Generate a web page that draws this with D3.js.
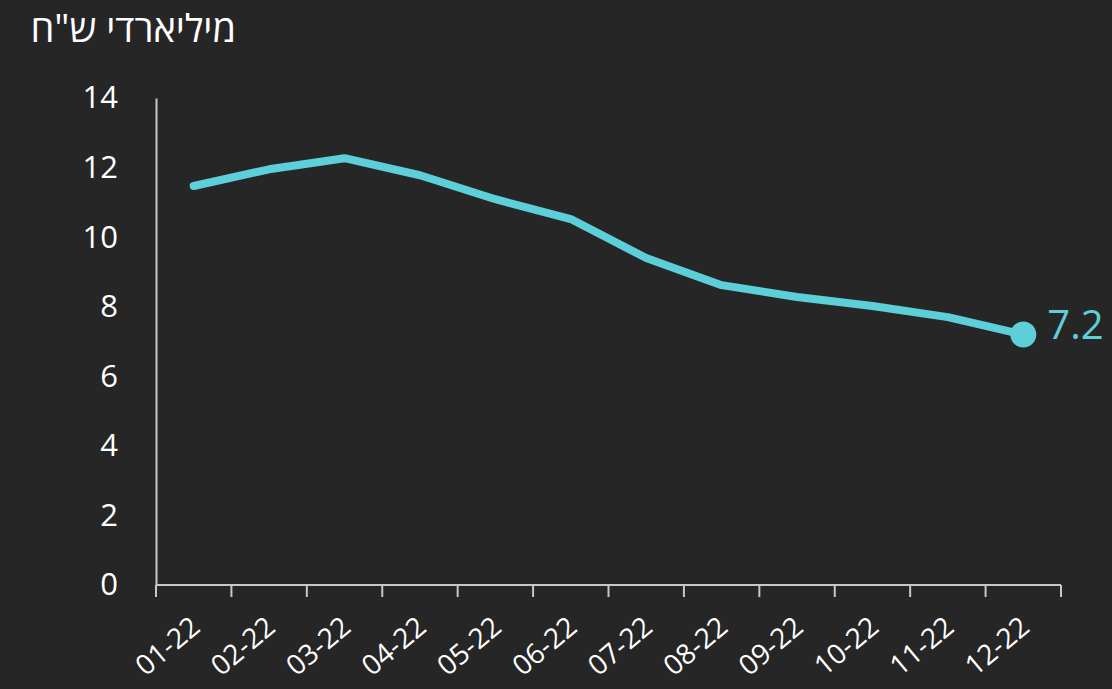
<!DOCTYPE html>
<html>
<head>
<meta charset="utf-8">
<script src="https://d3js.org/d3.v7.min.js"></script>
<style>
  body { margin: 0; background: #262626; }
  svg { display: block; }
  text { font-family: "Source Sans Pro", "Open Sans", sans-serif; }
</style>
</head>
<body>
<div id="chart"></div>
<script>
  // data
  var months = ["01-22", "02-22", "03-22", "04-22", "05-22", "06-22",
                "07-22", "08-22", "09-22", "10-22", "11-22", "12-22"];
  var values = [11.47, 11.95, 12.27, 11.78, 11.09, 10.52,
                9.40, 8.62, 8.28, 8.02, 7.70, 7.2];
  var yTicks = [0, 2, 4, 6, 8, 10, 12, 14];
  var unitLabel = "מיליארדי ש\"ח";

  var W = 1112, H = 689;
  var margin = {top: 98, right: 51, bottom: 104, left: 156};

  var svg = d3.select("#chart").append("svg")
      .attr("width", W).attr("height", H);

  svg.append("rect").attr("width", W).attr("height", H).attr("fill", "#262626");

  var x = d3.scaleBand()
      .domain(months)
      .range([margin.left, W - margin.right]);
  var y = d3.scaleLinear()
      .domain([0, 14])
      .range([H - margin.bottom, margin.top]);

  // y axis
  var gy = svg.append("g")
      .attr("transform", `translate(${margin.left},0)`)
      .call(d3.axisLeft(y).tickValues(yTicks).tickSize(0).tickPadding(38));
  gy.select(".domain").attr("stroke", "#c8c8c8").attr("stroke-width", 2);
  gy.selectAll("text").attr("fill", "#fff").style("font-size", "31px");

  // x axis, ticks on band edges
  var gx = svg.append("g")
      .attr("transform", `translate(0,${H - margin.bottom})`);
  gx.append("line")
      .attr("x1", margin.left).attr("x2", W - margin.right)
      .attr("stroke", "#c8c8c8").attr("stroke-width", 2);
  var edges = months.map(function (m) { return x(m); }).concat([x.range()[1]]);
  gx.selectAll(".tk").data(edges).enter().append("line")
      .attr("x1", function (d) { return d; })
      .attr("x2", function (d) { return d; })
      .attr("y1", 0).attr("y2", 12)
      .attr("stroke", "#c8c8c8").attr("stroke-width", 2);
  gx.selectAll(".lbl").data(months).enter().append("text")
      .attr("transform", function (d) {
        return `translate(${x(d) + x.bandwidth() / 2 + 8},${45}) rotate(-40)`;
      })
      .attr("text-anchor", "end")
      .attr("fill", "#fff")
      .style("font-size", "28px")
      .text(function (d) { return d; });

  // line
  var line = d3.line()
      .x(function (d, i) { return x(months[i]) + x.bandwidth() / 2; })
      .y(function (d) { return y(d); });
  svg.append("path")
      .datum(values)
      .attr("d", line)
      .attr("fill", "none")
      .attr("stroke", "#5ccfd9")
      .attr("stroke-width", 8)
      .attr("stroke-linecap", "round")
      .attr("stroke-linejoin", "round");

  var last = values.length - 1;
  var lx = x(months[last]) + x.bandwidth() / 2, ly = y(values[last]);
  svg.append("circle")
      .attr("cx", lx).attr("cy", ly).attr("r", 13)
      .attr("fill", "#5ccfd9");
  svg.append("text")
      .attr("x", lx + 24).attr("y", ly)
      .attr("dy", "0.1em")
      .attr("fill", "#5ccfd9")
      .style("font-size", "40px")
      .text(d3.format(".1f")(values[last]));

  // unit title
  svg.append("text")
      .attr("x", 236).attr("y", 42)
      .attr("text-anchor", "start")
      .attr("direction", "rtl")
      .attr("fill", "#fff")
      .style("font-size", "38px")
      .text(unitLabel);
</script>
</body>
</html>
